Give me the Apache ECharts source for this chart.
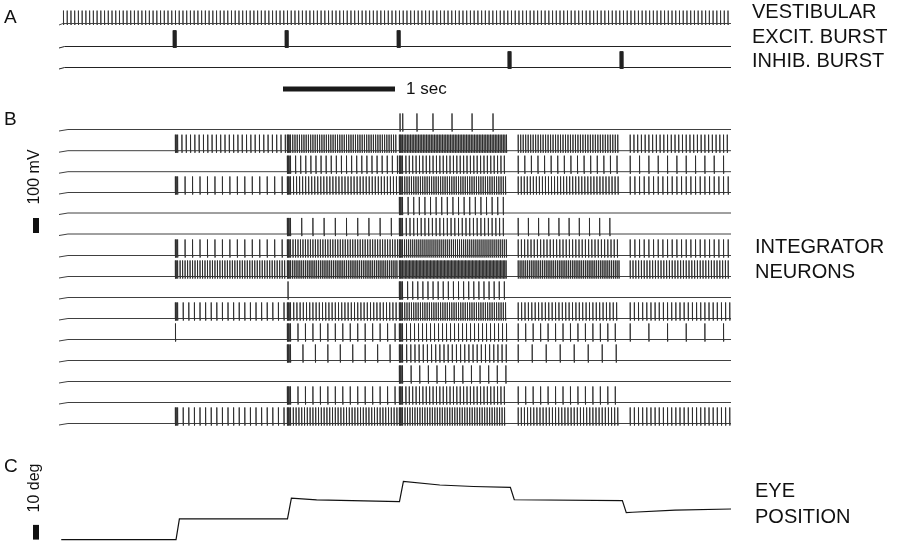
<!DOCTYPE html>
<html><head><meta charset="utf-8">
<script src="https://cdn.jsdelivr.net/npm/echarts@6/dist/echarts.min.js"></script>
<style>html,body{margin:0;padding:0;background:#fff}#c{width:900px;height:544px}</style>
</head><body><div id="c"></div>
<script>
// ---------- DATA (time in seconds, potentials in mV, eye in degrees) ----------
const epochStarts = [0, 1.035, 2.035, 3.035, 4.03, 5.03];
const traceEnd = 6.0;
const excitBurstTimes = [1.02, 2.02, 3.02];
const inhibBurstTimes = [4.01, 5.01];
const burstSpikeCount = 6;
const vestibularRate = 30;            // spikes / s
// extra closely spaced spikes at the onset of each excitatory epoch
const onsetSpikeCount = [0, 2, 3, 3, 0, 0];
// firing rate (spikes/s) of each integrator neuron in each of the 6 epochs
const integratorRates = [
  [0, 0, 0, 0, 0, 0],
  [0, 26, 50, 70, 45, 30],
  [0, 0, 22, 33, 17, 12],
  [0, 15, 37, 50, 37, 24],
  [0, 0, 0, 20, 0, 0],
  [0, 0, 10, 30, 11, 0],
  [0, 15, 45, 55, 35, 24],
  [0, 45, 60, 80, 60, 40],
  [0, 0, 0, 22, 0, 0],
  [0, 20, 35, 50, 33, 27],
  [0, 0, 15, 28, 15, 6],
  [0, 0, 9, 27, 8, 0],
  [0, 0, 0, 13, 0, 0],
  [0, 0, 15, 33, 15, 0],
  [0, 20, 40, 45, 36, 27]
];
// isolated spikes (s) read individually
const isolatedSpikes = [
  [3.045, 3.069, 3.196, 3.339, 3.509, 3.688, 3.875],
  [], [], [], [], [], [], [],
  [2.045],
  [],
  [1.04],
  [], [], [], []
];
const eyeTimes = [0.02, 1.045, 1.075, 2.04, 2.075, 2.3, 3.04, 3.075, 3.4, 3.7, 4.03, 4.065, 5.03, 5.065, 5.12, 5.5, 6.0];
const eyeDeg   = [0, 0, 13.9, 13.9, 27.7, 26.6, 25.5, 39, 36.6, 35.6, 35, 26.7, 26.1, 18.0, 18.3, 19.8, 20.5];
const timeBar = [2.0, 3.0];
const voltBar = [-70, 30];   // 100 mV
const degBar = [0, 10];      // 10 deg

// ---------- LAYOUT ----------
const LEFT = 59, WIDTH = 672;
const MV_MIN = -90, MV_MAX = 60, PX_MV = 0.15, REST = -70;
const neuronBaseY = [129.5, 150.7, 171.7, 192.5, 213, 234, 255.5, 276.5, 297.5, 318.5, 339.5, 360.5, 381.5, 402.5, 423.5];
const SPIKE_PEAK = 37, SPIKE_UNDER = -84;

const grids = [], xAxes = [], yAxes = [], series = [];
function addGrid(g, xa, ya) {
  grids.push(g);
  const i = grids.length - 1;
  xAxes.push(Object.assign({gridIndex: i, type: 'value', show: false}, xa));
  yAxes.push(Object.assign({gridIndex: i, type: 'value', show: false}, ya));
  return i;
}
function mvGrid(baseY) {
  return addGrid({left: LEFT, width: WIDTH, top: baseY - (MV_MAX - REST) * PX_MV, height: (MV_MAX - MV_MIN) * PX_MV},
    {min: 0, max: traceEnd}, {min: MV_MIN, max: MV_MAX});
}
function traceFromSpikes(spikes, peak, under, ramp) {
  spikes = spikes.slice().sort((a, b) => a - b);
  const pts = [[0, REST - 10], [ramp, REST]];
  let last = ramp;
  for (const s of spikes) {
    const t = Math.max(s, last + 0.0003);
    pts.push([t, REST], [t, peak], [t + 0.0008, under], [t + 0.003, REST]);
    last = t + 0.003;
  }
  pts.push([traceEnd, REST]);
  return pts;
}
// polyline drawn through the axes of grid i (custom series, no segment skipping)
function line(i, data, color, width) {
  series.push({type: 'custom', coordinateSystem: 'cartesian2d', xAxisIndex: i, yAxisIndex: i,
    data: [[data[0][0], data[0][1]]], animation: false, silent: true, clip: false,
    renderItem: function (params, api) {
      return {type: 'polyline', shape: {points: data.map(p => api.coord(p))},
        style: {stroke: color, lineWidth: width, fill: null, lineJoin: 'miter'}};
    }});
}
function ratesToSpikes(rates) {
  const out = [];
  for (let e = 0; e < rates.length; e++) {
    const r = rates[e];
    if (!r) continue;
    let start = epochStarts[e] + (e >= 4 ? 0.07 : 0.004);
    const end = (e + 1 < epochStarts.length ? epochStarts[e + 1] : traceEnd) - (e === 3 || e === 4 ? 0.03 : 0.01);
    for (let k = 0; k < onsetSpikeCount[e]; k++) out.push(start + k * 0.008);
    start += onsetSpikeCount[e] * 0.008 + (onsetSpikeCount[e] ? 0.004 : 0);
    for (let t = start; t < end; t += 1 / r) out.push(t);
  }
  return out;
}

// Panel A
const vestSpikes = [];
for (let t = 0.04; t < traceEnd - 0.01; t += 1 / vestibularRate) vestSpikes.push(t);
line(mvGrid(23.5), traceFromSpikes(vestSpikes, 16, -80, 0.035), '#333', 0.9);
function burstSpikes(times) {
  const out = [];
  times.forEach(b => { for (let k = 0; k < burstSpikeCount; k++) out.push(b + k * 0.005); });
  return out;
}
line(mvGrid(46.5), traceFromSpikes(burstSpikes(excitBurstTimes), 37, -78, 0.05), '#222', 1);
line(mvGrid(67.5), traceFromSpikes(burstSpikes(inhibBurstTimes), 37, -78, 0.05), '#222', 1);
// time bar
const tb = addGrid({left: LEFT, width: WIDTH, top: 84, height: 10}, {min: 0, max: traceEnd}, {min: 0, max: 1});
line(tb, [[timeBar[0], 0.5], [timeBar[1], 0.5]], '#1a1a1a', 5);

// Panel B
integratorRates.forEach((rates, n) => {
  const spikes = ratesToSpikes(rates).concat(isolatedSpikes[n]);
  line(mvGrid(neuronBaseY[n]), traceFromSpikes(spikes, SPIKE_PEAK, SPIKE_UNDER, 0.08), '#2a2a2a', 0.9);
});
const vb = addGrid({left: 30, width: 12, top: 233 - (MV_MAX - REST) * PX_MV, height: (MV_MAX - MV_MIN) * PX_MV},
  {min: -1, max: 1}, {min: MV_MIN, max: MV_MAX});
line(vb, [[0, voltBar[0]], [0, voltBar[1]]], '#111', 6);

// Panel C
const DEG_MIN = -3, DEG_MAX = 47, PX_DEG = 1.5;
const eg = addGrid({left: LEFT, width: WIDTH, top: 540 - DEG_MAX * PX_DEG, height: (DEG_MAX - DEG_MIN) * PX_DEG},
  {min: 0, max: traceEnd}, {min: DEG_MIN, max: DEG_MAX});
line(eg, eyeTimes.map((t, i) => [t, eyeDeg[i]]), '#111', 1.2);
const db = addGrid({left: 30, width: 12, top: 541 - DEG_MAX * PX_DEG, height: (DEG_MAX - DEG_MIN) * PX_DEG},
  {min: -1, max: 1}, {min: DEG_MIN, max: DEG_MAX});
line(db, [[0, degBar[0]], [0, degBar[1]]], '#111', 6);

const FONT = '"Liberation Sans", Arial, Helvetica, sans-serif';
function txt(s, x, y, size, opts) {
  return Object.assign({type: 'text', x: x, y: y, silent: true,
    style: {text: s, fill: '#111', font: size + 'px ' + FONT, textVerticalAlign: 'middle', textAlign: 'left'}}, opts || {});
}
const graphics = [
  txt('A', 4, 18, 19), txt('B', 4, 120, 19), txt('C', 4, 467, 19),
  txt('1 sec', 406, 89, 17),
  txt('VESTIBULAR', 752, 12.5, 20), txt('EXCIT. BURST', 752, 37.5, 20), txt('INHIB. BURST', 752, 61, 20),
  txt('INTEGRATOR', 755, 247, 20), txt('NEURONS', 755, 272, 20),
  txt('EYE', 755, 491, 20), txt('POSITION', 755, 517, 20),
  {type: 'text', x: 35, y: 177, rotation: Math.PI / 2, silent: true,
   style: {text: '100 mV', fill: '#111', font: '16px ' + FONT, textAlign: 'center', textVerticalAlign: 'middle'}},
  {type: 'text', x: 35, y: 488, rotation: Math.PI / 2, silent: true,
   style: {text: '10 deg', fill: '#111', font: '16px ' + FONT, textAlign: 'center', textVerticalAlign: 'middle'}}
];

const chart = echarts.init(document.getElementById('c'), null, {renderer: 'canvas'});
chart.setOption({
  animation: false, backgroundColor: '#fff',
  grid: grids, xAxis: xAxes, yAxis: yAxes, series: series, graphic: graphics
});
</script></body></html>
